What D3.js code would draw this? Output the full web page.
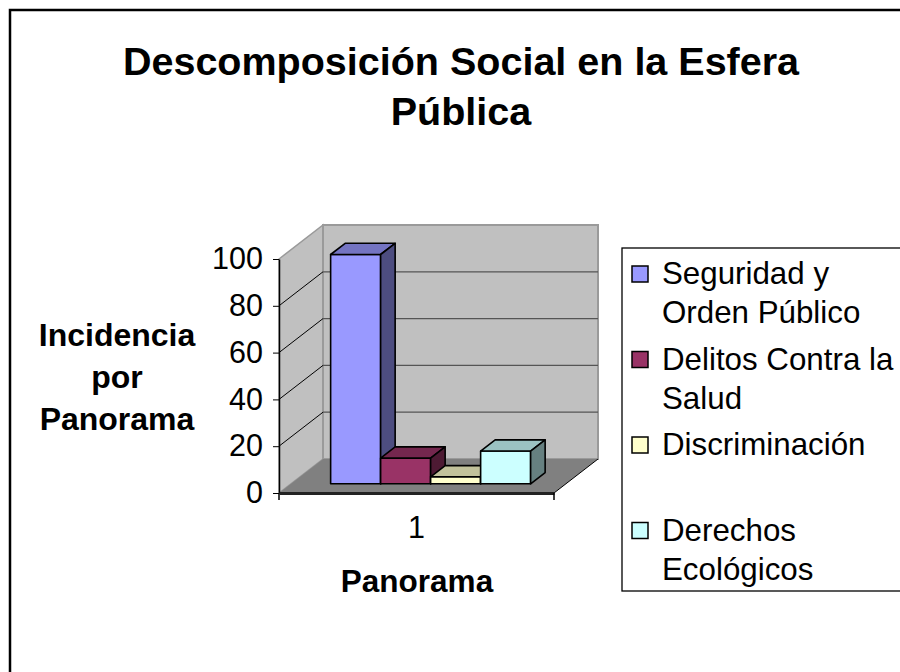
<!DOCTYPE html>
<html>
<head>
<meta charset="utf-8">
<script src="https://cdn.jsdelivr.net/npm/d3@7"></script>
<style>
  body { margin: 0; background: #fff; }
  svg { display: block; font-family: "Liberation Sans", Arial, sans-serif; }
</style>
</head>
<body>
<div id="chart"></div>
<script>
// data
const categories = ["1"];
const seriesNames = ["Seguridad y Orden Público", "Delitos Contra la Salud", "Discriminación", "Derechos Ecológicos"];
const seriesValues = [98, 11, 3, 14];
const seriesColors = ["#9999ff", "#993366", "#ffffcc", "#ccffff"];
const legendLines = [["Seguridad y", "Orden Público"], ["Delitos Contra la", "Salud"], ["Discriminación"], ["Derechos", "Ecológicos"]];
const yTicks = [0, 20, 40, 60, 80, 100];
const titleLines = ["Descomposición Social en la Esfera", "Pública"];
const yTitleLines = ["Incidencia", "por", "Panorama"];
const xTitle = "Panorama";

const width = 900, height = 672;
// 3d depth offsets
const DX = 44, DY = 34;
const z0 = 0.27, z1 = 0.6;

const svg = d3.select("#chart").append("svg")
  .attr("width", width)
  .attr("height", height);

// outer chart border (right and bottom run off the picture)
svg.append("rect")
  .attr("x", 10).attr("y", 10)
  .attr("width", 1000).attr("height", 1000)
  .attr("fill", "#fff")
  .attr("stroke", "#000")
  .attr("stroke-width", 2.5);

// title
svg.append("text")
  .attr("x", 461)
  .attr("y", 75)
  .attr("text-anchor", "middle")
  .attr("font-weight", "bold")
  .attr("font-size", 39.5)
  .selectAll("tspan")
  .data(titleLines)
  .enter()
  .append("tspan")
  .attr("x", 461)
  .attr("dy", (d, i) => i === 0 ? 0 : 50)
  .text(d => d);

const x = d3.scaleBand()
  .domain(categories)
  .range([279, 554]);

const xs = d3.scaleBand()
  .domain(seriesNames)
  .range([0, x.bandwidth()])
  .paddingOuter(0.75)
  .align(0.53);

const y = d3.scaleLinear()
  .domain([0, 100])
  .range([493, 259]);

const x0 = x.range()[0], x1 = x.range()[1];
const yBase = y(0), yTop = y(100);

// left wall
svg.append("path")
  .attr("d", `M${x0},${yBase}L${x0},${yTop}L${x0 + DX},${yTop - DY}L${x0 + DX},${yBase - DY}Z`)
  .attr("fill", "#c0c0c0")
  .attr("stroke", "#9a9a9a")
  .attr("stroke-width", 1.5);

// back wall
svg.append("rect")
  .attr("x", x0 + DX)
  .attr("y", yTop - DY)
  .attr("width", x1 - x0)
  .attr("height", yBase - yTop)
  .attr("fill", "#c0c0c0")
  .attr("stroke", "#9a9a9a")
  .attr("stroke-width", 2);

// floor
svg.append("path")
  .attr("d", `M${x0},${yBase}L${x1},${yBase}L${x1 + DX},${yBase - DY}L${x0 + DX},${yBase - DY}Z`)
  .attr("fill", "#808080");
svg.append("line")
  .attr("x1", x1).attr("y1", yBase)
  .attr("x2", x1 + DX).attr("y2", yBase - DY)
  .attr("stroke", "#000")
  .attr("stroke-width", 1);

// gridlines: wall diagonals + back wall
const grid = yTicks.filter(d => d > 0 && d < 100);
svg.append("g").selectAll("line")
  .data(grid)
  .enter()
  .append("line")
  .attr("x1", x0).attr("y1", d => y(d))
  .attr("x2", x0 + DX).attr("y2", d => y(d) - DY)
  .attr("stroke", "#000")
  .attr("stroke-width", 1);
svg.append("g").selectAll("line")
  .data(grid)
  .enter()
  .append("line")
  .attr("x1", x0 + DX).attr("y1", d => y(d) - DY)
  .attr("x2", x1 + DX).attr("y2", d => y(d) - DY)
  .attr("stroke", "#555")
  .attr("stroke-width", 1.3);

function shade(c, k) {
  const r = d3.rgb(c);
  return d3.rgb(r.r * k, r.g * k, r.b * k).formatHex();
}

// bars
const bars = seriesNames.map((s, i) => ({ name: s, value: seriesValues[i], color: seriesColors[i] }));
const bw = xs.bandwidth();
const fdx = DX * z0, fdy = DY * z0;
const ddx = DX * (z1 - z0), ddy = DY * (z1 - z0);

const barG = svg.append("g").selectAll("g")
  .data(bars)
  .enter()
  .append("g")
  .attr("stroke", "#000")
  .attr("stroke-width", 1.6)
  .attr("stroke-linejoin", "round");

barG.append("rect")
  .attr("x", d => x(categories[0]) + xs(d.name) + fdx)
  .attr("y", d => y(d.value) - fdy)
  .attr("width", bw)
  .attr("height", d => yBase - y(d.value))
  .attr("fill", d => d.color);

barG.append("path")
  .attr("d", d => {
    const l = x(categories[0]) + xs(d.name) + fdx, t = y(d.value) - fdy;
    return `M${l},${t}L${l + ddx},${t - ddy}L${l + bw + ddx},${t - ddy}L${l + bw},${t}Z`;
  })
  .attr("fill", d => shade(d.color, 0.76));

barG.append("path")
  .attr("d", d => {
    const r = x(categories[0]) + xs(d.name) + fdx + bw, t = y(d.value) - fdy, b = yBase - fdy;
    return `M${r},${t}L${r + ddx},${t - ddy}L${r + ddx},${b - ddy}L${r},${b}Z`;
  })
  .attr("fill", d => shade(d.color, 0.5));

// y axis
const yAxis = d3.axisLeft(y)
  .tickValues(yTicks)
  .tickSize(6)
  .tickSizeOuter(0)
  .tickPadding(10);

const yg = svg.append("g")
  .attr("transform", `translate(${x0},0)`)
  .call(yAxis);
yg.select(".domain").attr("stroke", "#000").attr("stroke-width", 1.5);
yg.selectAll(".tick line").attr("stroke", "#000");
yg.selectAll(".tick text")
  .attr("font-size", 30.5)
  .attr("font-family", "Liberation Sans, Arial, sans-serif")
  .attr("fill", "#000");
svg.append("line")
  .attr("x1", x0).attr("y1", yBase)
  .attr("x2", x0).attr("y2", yBase + 7)
  .attr("stroke", "#000").attr("stroke-width", 1.5);

// x axis
const xAxis = d3.axisBottom(x)
  .tickSize(0)
  .tickSizeOuter(0)
  .tickPadding(23);

const xg = svg.append("g")
  .attr("transform", `translate(0,${yBase})`)
  .call(xAxis);
xg.select(".domain").attr("stroke", "#222").attr("stroke-width", 3);
xg.selectAll(".tick text")
  .attr("font-size", 30.5)
  .attr("font-family", "Liberation Sans, Arial, sans-serif")
  .attr("fill", "#000");
svg.append("line")
  .attr("x1", x1).attr("y1", yBase)
  .attr("x2", x1).attr("y2", yBase + 7)
  .attr("stroke", "#000").attr("stroke-width", 1.5);

// axis titles
svg.append("text")
  .attr("x", 417)
  .attr("y", 592)
  .attr("text-anchor", "middle")
  .attr("font-weight", "bold")
  .attr("font-size", 31.5)
  .text(xTitle);

svg.append("text")
  .attr("text-anchor", "middle")
  .attr("font-weight", "bold")
  .attr("font-size", 32)
  .selectAll("tspan")
  .data(yTitleLines)
  .enter()
  .append("tspan")
  .attr("x", 117)
  .attr("y", (d, i) => 346 + i * 42)
  .text(d => d);

// legend
svg.append("rect")
  .attr("x", 622).attr("y", 248)
  .attr("width", 320).attr("height", 343)
  .attr("fill", "#fff")
  .attr("stroke", "#000")
  .attr("stroke-width", 1.3);

const leg = svg.append("g").selectAll("g")
  .data(bars)
  .enter()
  .append("g")
  .attr("transform", (d, i) => `translate(632,${284 + i * 85.5})`);

leg.append("rect")
  .attr("x", 0).attr("y", -18)
  .attr("width", 16).attr("height", 16)
  .attr("fill", d => d.color)
  .attr("stroke", "#000")
  .attr("stroke-width", 1.5);

leg.append("text")
  .attr("font-size", 31.3)
  .selectAll("tspan")
  .data((d, i) => legendLines[i])
  .enter()
  .append("tspan")
  .attr("x", 30)
  .attr("y", (d, j) => j * 39)
  .text(d => d);
</script>
</body>
</html>
